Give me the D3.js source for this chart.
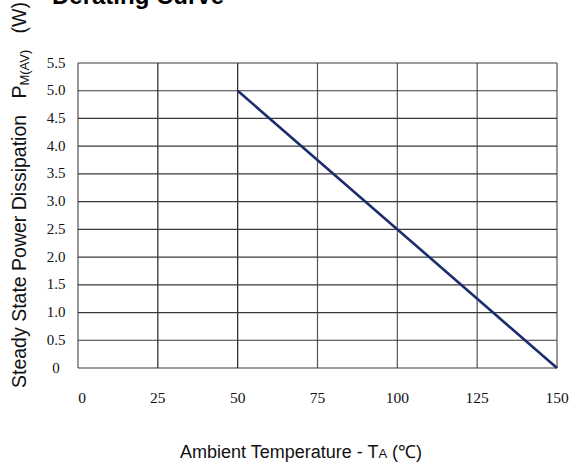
<!DOCTYPE html>
<html>
<head>
<meta charset="utf-8">
<script src="https://cdn.jsdelivr.net/npm/d3@7"></script>
<style>
  body { margin: 0; background: #fff; }
  svg { display: block; }
</style>
</head>
<body>
<div id="chart"></div>
<script>
// derating curve data
const temps = [50, 150];
const power = [5.0, 0];
const xTicks = [0, 25, 50, 75, 100, 125, 150];
const yTicks = [0, 0.5, 1.0, 1.5, 2.0, 2.5, 3.0, 3.5, 4.0, 4.5, 5.0, 5.5];
const yTickLabels = ["0", "0.5", "1.0", "1.5", "2.0", "2.5", "3.0", "3.5", "4.0", "4.5", "5.0", "5.5"];

const W = 588, H = 467;
const margin = {left: 78, right: 31, top: 63, bottom: 99};
const width = W - margin.left - margin.right;
const height = H - margin.top - margin.bottom;

const svg = d3.select("#chart").append("svg")
    .attr("width", W)
    .attr("height", H);

const g = svg.append("g")
    .attr("transform", "translate(" + margin.left + "," + margin.top + ")");

const x = d3.scaleLinear().domain([0, 150]).range([0, width]);
const y = d3.scaleLinear().domain([0, 5.5]).range([height, 0]);

// grid
g.selectAll(".vgrid").data(xTicks).enter().append("line")
    .attr("x1", d => x(d)).attr("x2", d => x(d))
    .attr("y1", 0).attr("y2", height)
    .attr("stroke", (d, i) => i == 1 || i == 2 ? "#222" : "#555")
    .attr("stroke-width", 1.2);
g.selectAll(".hgrid").data(yTicks).enter().append("line")
    .attr("y1", d => y(d)).attr("y2", d => y(d))
    .attr("x1", 0).attr("x2", width)
    .attr("stroke", "#3a3a3a").attr("stroke-width", 1.2);

// tick labels (serif)
g.selectAll(".ylab").data(yTicks).enter().append("text")
    .attr("x", -22)
    .attr("y", d => y(d))
    .attr("dy", "0.3em")
    .attr("text-anchor", "middle")
    .attr("font-family", "Liberation Serif, serif")
    .attr("font-size", 15)
    .attr("fill", "#111")
    .text((d, i) => yTickLabels[i]);

g.selectAll(".xlab").data(xTicks).enter().append("text")
    .attr("x", d => x(d) + (d == 0 ? 4 : 0))
    .attr("y", height + 35)
    .attr("text-anchor", "middle")
    .attr("font-family", "Liberation Serif, serif")
    .attr("font-size", 15.5)
    .attr("fill", "#111")
    .text(d => d);

// the curve
const pts = temps.map((t, i) => ({t: t, p: power[i]}));
g.append("path")
    .datum(pts)
    .attr("fill", "none")
    .attr("stroke", "#1d2d6b")
    .attr("stroke-width", 2.6)
    .attr("d", d3.line().x(d => x(d.t)).y(d => y(d.p)));

// title, mostly cut off at the top
svg.append("text")
    .attr("x", 52).attr("y", 4)
    .attr("font-family", "Liberation Sans, Arial, sans-serif")
    .attr("font-weight", "bold")
    .attr("font-size", 24)
    .attr("fill", "#000")
    .text("Derating  Curve");

// x axis title
const xt = svg.append("text")
    .attr("x", 180).attr("y", 458)
    .attr("font-family", "Liberation Sans, Arial, sans-serif")
    .attr("font-size", 18)
    .attr("fill", "#111");
xt.append("tspan").text("Ambient Temperature - T");
xt.append("tspan").attr("font-size", 13).text("A");
xt.append("tspan").text(" (\u2103)");

// y axis title
const yt = svg.append("text")
    .attr("transform", "translate(26,388) rotate(-90)")
    .attr("font-family", "Liberation Sans, Arial, sans-serif")
    .attr("font-size", 19.5)
    .attr("fill", "#111")
    .attr("xml:space", "preserve")
    .style("white-space", "pre");
yt.append("tspan").text("Steady State Power Dissipation   P");
yt.append("tspan").attr("font-size", 13).attr("dy", 3).text("M(AV)");
yt.append("tspan").attr("dy", -3).text("   (W)");
</script>
</body>
</html>
